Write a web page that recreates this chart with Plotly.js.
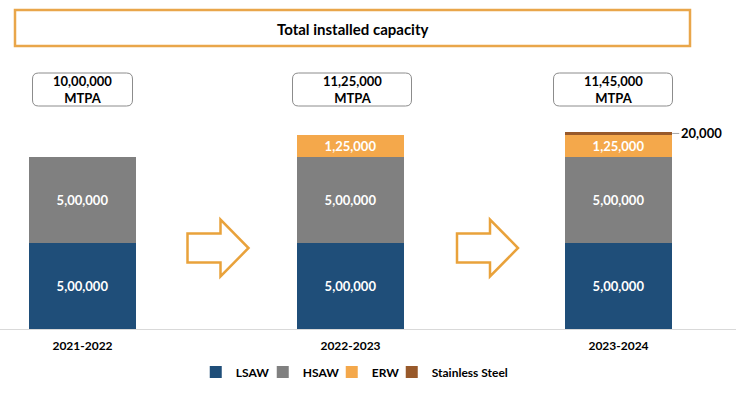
<!DOCTYPE html>
<html>
<head>
<meta charset="utf-8">
<script src="https://cdn.plot.ly/plotly-3.0.1.min.js"></script>
<style>html,body{margin:0;padding:0;background:#fff;}#chart{width:736px;height:396px;}</style>
</head>
<body>
<div id="chart"></div>
<script>
// ---- data ----
const years = ['2021-2022', '2022-2023', '2023-2024'];
const lsaw = [500000, 500000, 500000];
const hsaw = [500000, 500000, 500000];
const erw = [0, 125000, 125000];
const stainless = [0, 0, 20000];
const seriesNames = ['LSAW', 'HSAW', 'ERW', 'Stainless Steel'];
const unitLabel = 'MTPA';
const chartTitle = 'Total installed capacity';

// ---- helpers ----
function fmtIN(n) {
  const s = String(Math.round(n));
  if (s.length <= 3) return s;
  const last3 = s.slice(-3);
  let rest = s.slice(0, -3);
  const parts = [];
  while (rest.length > 2) { parts.unshift(rest.slice(-2)); rest = rest.slice(0, -2); }
  if (rest.length) parts.unshift(rest);
  return parts.join(',') + ',' + last3;
}
const xs = years.map((_, i) => i);
const totals = xs.map(i => lsaw[i] + hsaw[i] + erw[i] + stainless[i]);
const labels = arr => arr.map(v => v > 0 ? fmtIN(v) : '');

const FONT = 'Lato, "Open Sans", sans-serif';
const colors = ['#1F4E79', '#808080', '#F4A84B', '#98592A'];
const legendWidths = [22, 24, 15, 0];
const BW = 0.401;

function barTrace(k, vals, withText) {
  const t = {
    type: 'bar', name: seriesNames[k], x: xs, y: vals, width: BW,
    marker: { color: colors[k], line: { width: 0 } },
    text: withText ? labels(vals) : undefined,
    textposition: withText ? 'inside' : 'none',
    insidetextanchor: 'middle',
    textangle: 0,
    constraintext: 'none',
    textfont: { family: FONT, size: 13, color: '#ffffff', weight: 700 },
    hoverinfo: 'name+y'
  };
  if (legendWidths[k]) t.legendwidth = legendWidths[k];
  return t;
}

const data = [
  barTrace(0, lsaw, true),
  barTrace(1, hsaw, true),
  barTrace(2, erw, true),
  barTrace(3, stainless, false)
];

// pixel helpers for decorations
const PLOT_H = 329;
const py = p => (PLOT_H - p) / PLOT_H; // pixel y -> paper y
function roundRect(cx, w, h, r) {
  const x0 = cx - w / 2, x1 = cx + w / 2, y0 = -h / 2, y1 = h / 2;
  return `M${x0 + r},${y0} L${x1 - r},${y0} Q${x1},${y0} ${x1},${y0 + r} L${x1},${y1 - r} Q${x1},${y1} ${x1 - r},${y1} L${x0 + r},${y1} Q${x0},${y1} ${x0},${y1 - r} L${x0},${y0 + r} Q${x0},${y0} ${x0 + r},${y0} Z`;
}
const arrowPath = (dx) => `M${-30 + dx},-14.5 L${3 + dx},-14.5 L${3 + dx},-28.5 L${31 + dx},0 L${3 + dx},28.5 L${3 + dx},14.5 L${-30 + dx},14.5 Z`;

const boxOffsets = [0, 1.5, -5.5];
const boxWidths = [100, 119, 119];

const shapes = [
  { type: 'rect', xref: 'paper', yref: 'paper', x0: 15 / 736, x1: 690 / 736, y0: py(46), y1: py(10),
    line: { color: '#E9A64A', width: 2.5 }, fillcolor: 'rgba(0,0,0,0)' }
];
xs.forEach(i => {
  shapes.push({ type: 'path', xref: 'x', yref: 'paper', xsizemode: 'pixel', ysizemode: 'pixel',
    xanchor: i, yanchor: py(89.5), path: roundRect(boxOffsets[i], boxWidths[i], 33, 6),
    line: { color: '#8C8C8C', width: 1 }, fillcolor: '#ffffff' });
});
[0.5, 1.5].forEach((xa, k) => {
  shapes.push({ type: 'path', xref: 'x', yref: 'paper', xsizemode: 'pixel', ysizemode: 'pixel',
    xanchor: xa, yanchor: py(248), path: arrowPath(k === 0 ? 1 : 2.5),
    line: { color: '#E9A23B', width: 2.5 }, fillcolor: 'rgba(0,0,0,0)' });
});

const annotations = [
  { xref: 'paper', yref: 'paper', x: 352 / 736, y: py(29), xanchor: 'center', yanchor: 'middle',
    text: chartTitle, showarrow: false,
    font: { family: FONT, size: 15, color: '#000', weight: 700 } }
];
xs.forEach(i => {
  annotations.push({ xref: 'x', yref: 'paper', x: i, xshift: boxOffsets[i], y: py(89.5),
    xanchor: 'center', yanchor: 'middle',
    text: fmtIN(totals[i]) + '<br>' + unitLabel, showarrow: false,
    font: { family: FONT, size: 13, color: '#000', weight: 700 } });
});
// stainless steel callout
xs.forEach(i => {
  if (stainless[i] > 0) {
    annotations.push({ xref: 'x', yref: 'y', x: i + BW / 2,
      y: lsaw[i] + hsaw[i] + erw[i] + stainless[i] / 2,
      text: fmtIN(stainless[i]), showarrow: true, arrowhead: 0, arrowwidth: 1,
      arrowcolor: '#A6A6A6', ax: 29, ay: 0, standoff: 0,
      font: { family: FONT, size: 13, color: '#000', weight: 700 } });
  }
});

const layout = {
  width: 736, height: 396,
  margin: { l: 0, r: 0, t: 0, b: 67, pad: 0 },
  paper_bgcolor: '#ffffff', plot_bgcolor: '#ffffff',
  barmode: 'stack',
  showlegend: true,
  legend: { orientation: 'h', x: 0.482, xanchor: 'center', y: py(372), yanchor: 'middle',
    traceorder: 'normal', font: { family: FONT, size: 12, color: '#000', weight: 700 },
    itemwidth: 30, bgcolor: 'rgba(0,0,0,0)' },
  xaxis: { type: 'linear', range: [-82.5 / 268, (736 - 82.5) / 268], tickvals: xs, ticktext: years,
    showgrid: false, zeroline: false, showline: true, linecolor: '#D9D9D9', linewidth: 1,
    ticks: '', ticklabelstandoff: 6, tickfont: { family: FONT, size: 12, color: '#000', weight: 700 },
    fixedrange: true },
  yaxis: { range: [0, PLOT_H / 172.3 * 1e6], visible: false, showgrid: false, zeroline: false, fixedrange: true },
  shapes: shapes,
  annotations: annotations,
  font: { family: FONT }
};

Plotly.newPlot('chart', data, layout, { displayModeBar: false, staticPlot: true });
</script>
</body>
</html>
